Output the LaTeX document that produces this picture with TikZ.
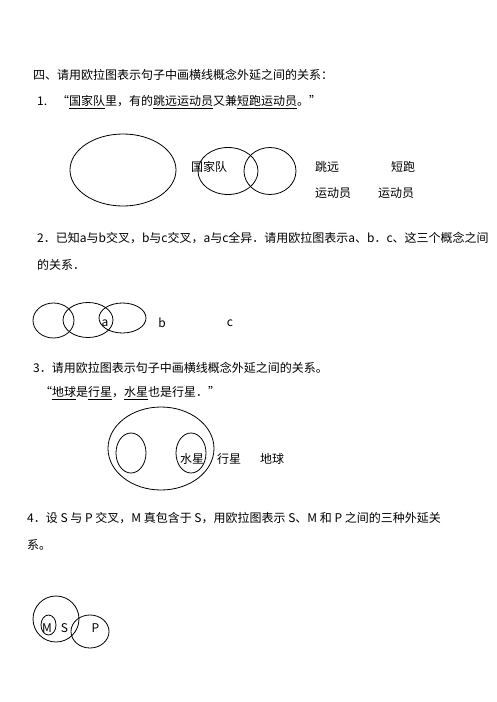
\documentclass[tikz,border=0pt]{standalone}
\usepackage{fontspec}
\setmainfont{Noto Sans CJK SC}
\usepackage{tikz}
\usetikzlibrary{positioning}

\tikzset{
    txt/.style={anchor=west, inner sep=0pt, font=\fontsize{12}{14}\selectfont},
    setline/.style={line width=0.8pt}
}

\begin{document}
\begin{tikzpicture}[x=1pt, y=-1pt]
    \useasboundingbox (0,0) rectangle (496,702);

    % Part 1
    \node[txt] (title) at (33, 75) {四、请用欧拉图表示句子中画横线概念外延之间的关系：};
    \node[txt] (q1) at (37, 102) {1.\hspace{10pt}“\underline{国家队}里，有的\underline{跳远运动员}又兼\underline{短跑运动员}。”};
    \draw[setline] (123, 170) ellipse (53 and 36);
    \draw[setline] (228, 171) ellipse (30 and 23.5);
    \draw[setline] (270, 171) ellipse (26 and 23.5);
    \node[txt] (gjd) at (191, 167) {国家队};
    \node[txt] (ty) at (315, 167) {跳远};
    \node[txt] (tyb) at (315, 193) {运动员};
    \node[txt] (dp) at (391, 167) {短跑};
    \node[txt] (dpb) at (378, 193) {运动员};

    % Part 2
    \node[txt] (q2) at (37, 238) {2．已知a与b交叉，b与c交叉，a与c全异．请用欧拉图表示a、b．c、这三个概念之间};
    \node[txt] (q2b) at (37, 265) {的关系．};
    \draw[setline] (53.5, 320.5) ellipse (20.5 and 17.5);
    \draw[setline] (88, 320) ellipse (25 and 17.5);
    \draw[setline] (122.5, 318) ellipse (23.5 and 15);
    \node[txt, anchor=center] (a) at (105, 323) {a};
    \node[txt, anchor=center] (b) at (162, 323) {b};
    \node[txt, anchor=center] (c) at (230, 323) {c};

    % Part 3
    \node[txt] (q3) at (33, 368) {3．请用欧拉图表示句子中画横线概念外延之间的关系。};
    \node[txt] (q3b) at (40, 393) {“\underline{地球}是\underline{行星}，\underline{水星}也是行星．”};
    \draw[setline] (161, 448.5) ellipse (53 and 41.5);
    \draw[setline] (131, 453) ellipse (15 and 20);
    \draw[setline] (191, 453) ellipse (15 and 20);
    \node[txt] (sx) at (180, 459) {水星};
    \node[txt] (xx) at (217, 459) {行星};
    \node[txt] (dq) at (260, 459) {地球};

    % Part 4
    \node[txt] (q4) at (27, 518) {4．设 S 与 P 交叉，M 真包含于 S，用欧拉图表示 S、M 和 P 之间的三种外延关};
    \node[txt] (q4b) at (27, 545) {系。};
    \draw[setline] (56, 619) circle (23);
    \draw[setline] (48.5, 625) ellipse (7.5 and 10);
    \draw[setline] (90, 631.5) ellipse (19 and 16.5);
    \node[txt, anchor=center] (m) at (47, 628) {M};
    \node[txt, anchor=center] (s) at (64.5, 628) {S};
    \node[txt, anchor=center] (p) at (95.5, 628) {P};
\end{tikzpicture}
\end{document}
